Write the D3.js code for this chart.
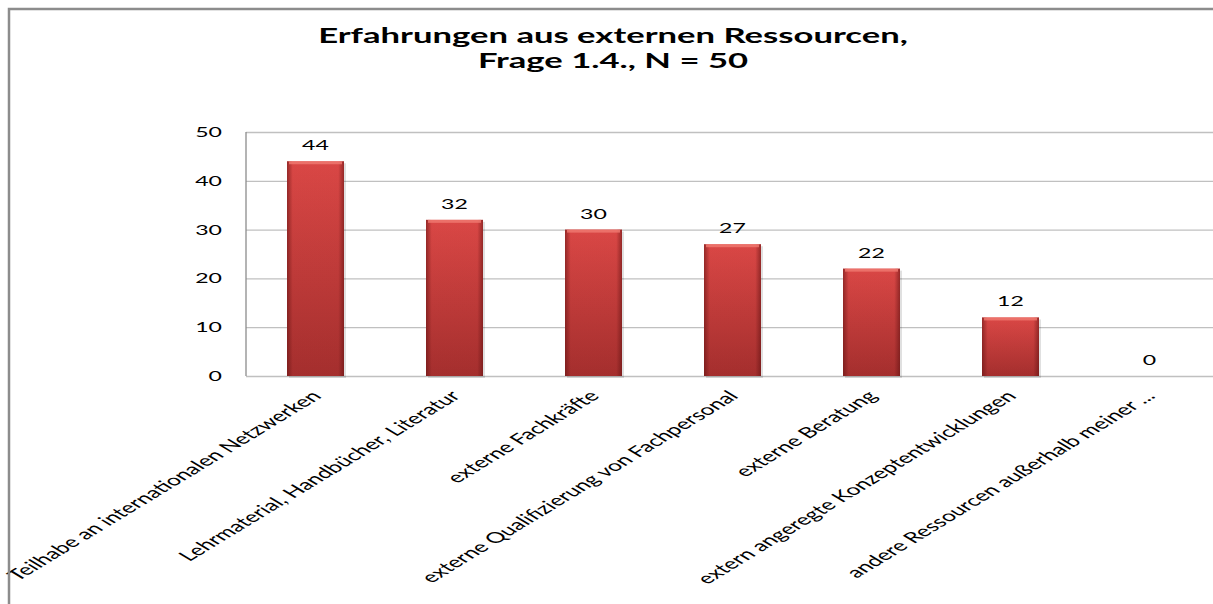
<!DOCTYPE html>
<html>
<head>
<meta charset="utf-8">
<script src="https://cdn.jsdelivr.net/npm/d3@7"></script>
<style>
  body { margin: 0; background: #fff; }
  svg text { font-family: Lato, "Open Sans", sans-serif; fill: #000; }
</style>
</head>
<body>
<div id="chart"></div>
<script>
// data
var categories = ["Teilhabe an internationalen Netzwerken", "Lehrmaterial, Handbücher, Literatur",
                  "externe Fachkräfte", "externe Qualifizierung von Fachpersonal", "externe Beratung",
                  "extern angeregte Konzeptentwicklungen", "andere Ressourcen außerhalb meiner ..."]
var values = [44, 32, 30, 27, 22, 12, 0]
var yTicks = [0, 10, 20, 30, 40, 50]
var titleLines = ["Erfahrungen aus externen Ressourcen,", "Frage 1.4., N = 50"]

// layout
var width = 1213, height = 604
var plot = {left: 246, top: 132, bottom: 376, step: 139}
var sx = 1.65 // the original is stretched sideways

var svg = d3.select("#chart")
    .append("svg")
    .attr("width", width)
    .attr("height", height)

// gradients for the bevelled bars
var defs = svg.append("defs")
var vg = defs.append("linearGradient").attr("id", "barV")
    .attr("x1", 0).attr("y1", 0).attr("x2", 0).attr("y2", 1)
vg.append("stop").attr("offset", "0%").attr("stop-color", "#e04a48")
vg.append("stop").attr("offset", "100%").attr("stop-color", "#a8302f")
var hg = defs.append("linearGradient").attr("id", "barH")
    .attr("x1", 0).attr("y1", 0).attr("x2", 1).attr("y2", 0)
hg.append("stop").attr("offset", "0%").attr("stop-color", "#5a0f0f").attr("stop-opacity", 0.55)
hg.append("stop").attr("offset", "10%").attr("stop-color", "#5a0f0f").attr("stop-opacity", 0.05)
hg.append("stop").attr("offset", "90%").attr("stop-color", "#5a0f0f").attr("stop-opacity", 0.05)
hg.append("stop").attr("offset", "100%").attr("stop-color", "#5a0f0f").attr("stop-opacity", 0.55)

// title
svg.append("g")
    .selectAll("text")
    .data(titleLines)
    .enter().append("text")
        .attr("transform", function(d, i) { return `translate(613,${43 + i * 25}) scale(${sx},1)` })
        .attr("text-anchor", "middle")
        .style("font-weight", "bold")
        .style("font-size", "21px")
        .text(function(d) { return d })

// scales
var x = d3.scaleBand()
    .domain(categories)
    .range([plot.left, plot.left + categories.length * plot.step])
    .paddingInner(0.59)
    .paddingOuter(0.295)

var y = d3.scaleLinear()
    .domain([0, 50])
    .range([plot.bottom, plot.top])

// gridlines
var grid = svg.append("g")
    .attr("transform", `translate(${plot.left},0)`)
    .call(d3.axisLeft(y).tickValues(yTicks).tickSize(-(width - plot.left)).tickFormat(""))
grid.select(".domain").remove()
grid.selectAll("line").attr("stroke", "#c0c0c0").attr("stroke-width", 1.3)

// y axis line
svg.append("line")
    .attr("x1", plot.left).attr("x2", plot.left)
    .attr("y1", plot.top).attr("y2", plot.bottom)
    .attr("stroke", "#8c8c8c").attr("stroke-width", 1.3)

// y tick labels
svg.append("g")
    .selectAll("text")
    .data(yTicks)
    .enter().append("text")
        .attr("transform", function(d) { return `translate(222,${y(d) + 5}) scale(${sx},1)` })
        .attr("text-anchor", "end")
        .style("font-size", "14px")
        .text(function(d) { return d })

// bars
var bars = svg.append("g")
    .selectAll("g")
    .data(values)
    .enter().append("g")

bars.append("rect")
    .attr("x", function(d, i) { return x(categories[i]) + 2 })
    .attr("y", function(d) { return y(d) + 2 })
    .attr("width", x.bandwidth())
    .attr("height", function(d) { return y(0) - y(d) })
    .attr("fill", "#000")
    .attr("opacity", 0.12)

bars.append("rect")
    .attr("x", function(d, i) { return x(categories[i]) })
    .attr("y", function(d) { return y(d) })
    .attr("width", x.bandwidth())
    .attr("height", function(d) { return y(0) - y(d) })
    .attr("fill", "url(#barV)")

bars.append("rect")
    .attr("x", function(d, i) { return x(categories[i]) })
    .attr("y", function(d) { return y(d) })
    .attr("width", x.bandwidth())
    .attr("height", function(d) { return y(0) - y(d) })
    .attr("fill", "url(#barH)")

// light bevel on top of each bar
bars.filter(function(d) { return d > 0 })
    .append("rect")
    .attr("x", function(d) { return x(categories[values.indexOf(d)]) + 2 })
    .attr("y", function(d) { return y(d) })
    .attr("width", x.bandwidth() - 4)
    .attr("height", 3)
    .attr("fill", "#f07a72")
    .attr("opacity", 0.8)

// value labels
svg.append("g")
    .selectAll("text")
    .data(values)
    .enter().append("text")
        .attr("transform", function(d, i) {
            return `translate(${x(categories[i]) + x.bandwidth() / 2},${y(d) - 11}) scale(${sx},1)` })
        .attr("text-anchor", "middle")
        .style("font-size", "14px")
        .text(function(d) { return d })

// category labels, rotated
svg.append("g")
    .selectAll("text")
    .data(categories)
    .enter().append("text")
        .attr("transform", function(d) {
            return `translate(${x(d) + x.bandwidth() / 2 + 7},397) scale(${sx},1) rotate(-45)` })
        .attr("text-anchor", "end")
        .style("font-size", "15px")
        .text(function(d) { return d })

// outer frame (only top and left visible)
svg.append("path")
    .attr("d", "M9,604 V9 H1213")
    .attr("fill", "none")
    .attr("stroke", "#8c8c8c")
    .attr("stroke-width", 2.5)
</script>
</body>
</html>
